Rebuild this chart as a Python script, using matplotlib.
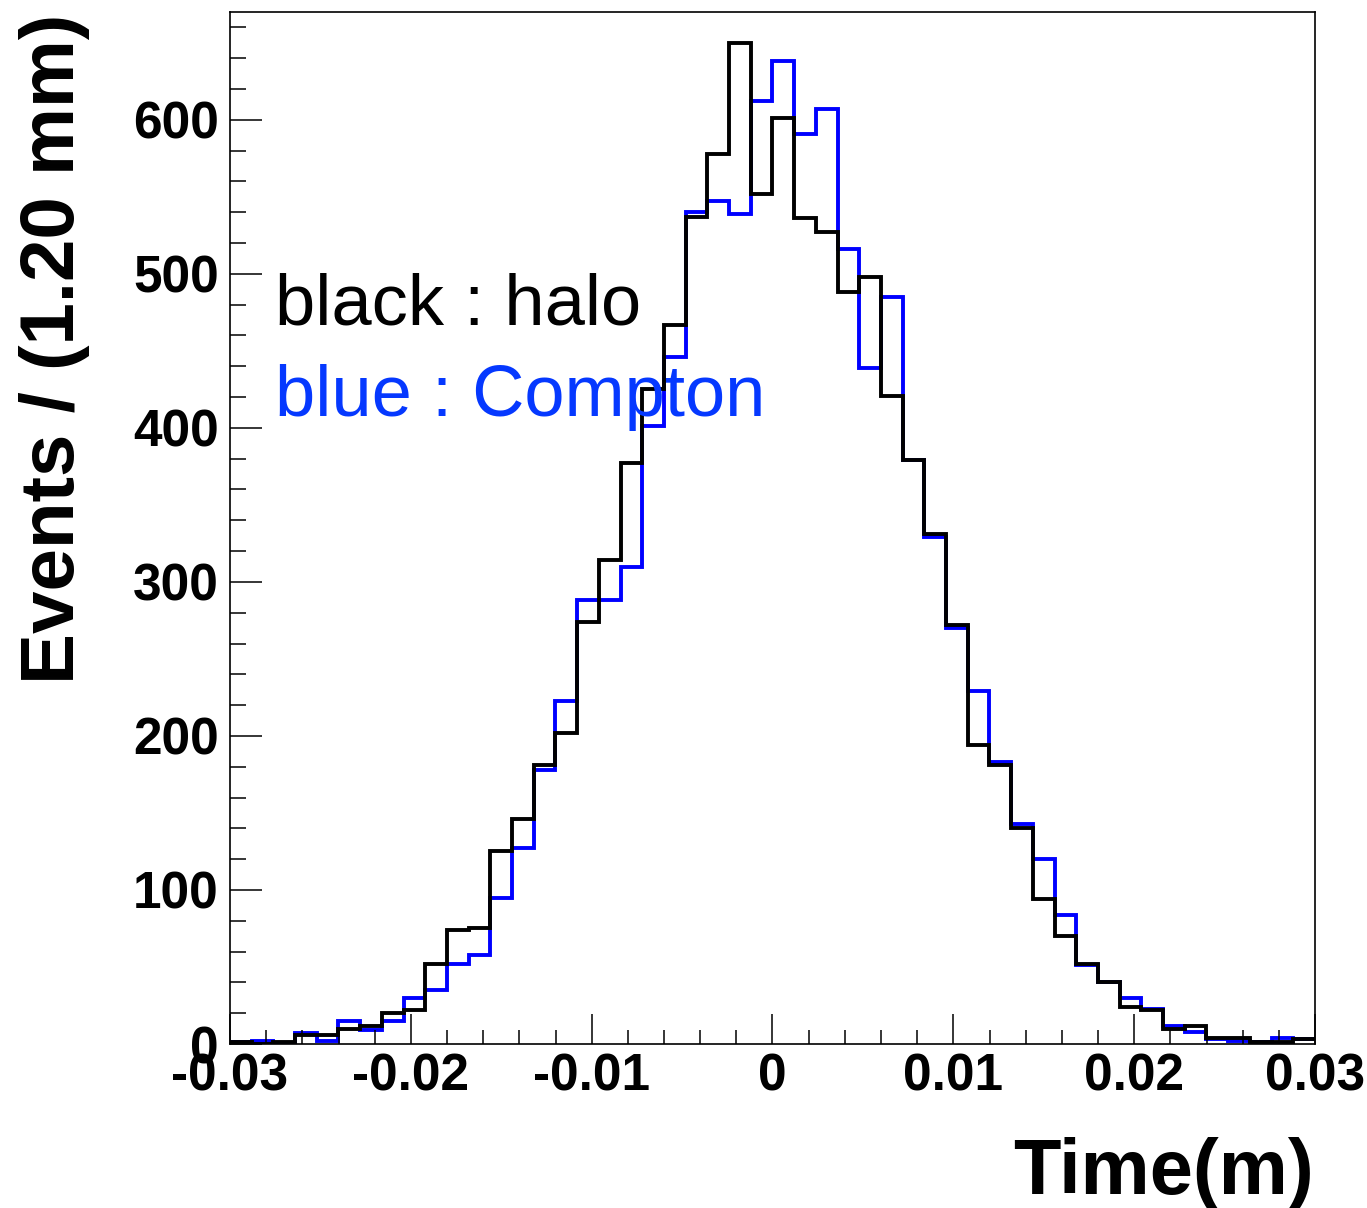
import matplotlib
matplotlib.use('Agg')
import matplotlib.pyplot as plt
import numpy as np

# Histogramas de tempo (50 bins de 1.20 mm entre -0.03 e 0.03)

## DADOS
x_min = -0.03
x_max = 0.03
n_bins = 50

halo = [1, 0, 1, 6, 6, 10, 12, 20, 22, 52,
        74, 75, 125, 146, 181, 202, 274, 314, 377, 425,
        467, 537, 578, 650, 552, 601, 536, 527, 488, 498,
        421, 379, 331, 272, 194, 181, 140, 94, 70, 52,
        40, 24, 22, 10, 12, 4, 4, 1, 1, 3]

compton = [1, 2, 0, 7, 2, 15, 9, 15, 30, 35,
           52, 58, 95, 127, 178, 223, 288, 288, 310, 401,
           446, 540, 547, 539, 612, 638, 591, 607, 516, 439,
           485, 379, 329, 270, 229, 183, 143, 120, 84, 51,
           40, 30, 23, 12, 8, 3, 2, 1, 4, 3]

x_ticks = [-0.03, -0.02, -0.01, 0, 0.01, 0.02, 0.03]
x_tick_labels = ['-0.03', '-0.02', '-0.01', '0', '0.01', '0.02', '0.03']
y_ticks = [0, 100, 200, 300, 400, 500, 600]

edges = np.linspace(x_min, x_max, n_bins + 1)

#-----------------------------------------------------------#

plt.rcParams['font.family'] = ['Liberation Sans', 'DejaVu Sans']

fig = plt.figure(figsize=(13.67, 12.08), dpi=100)
ax = fig.add_axes([230/1367, 1 - 1044/1208, 1085/1367, 1032/1208])

# azul primeiro, preto por cima
ax.stairs(compton, edges, baseline=None, color='#0000ff', linewidth=2.8)
ax.stairs(halo, edges, baseline=None, color='black', linewidth=2.8)

ax.set_xlim(x_min, x_max)
ax.set_ylim(0, 670)

ax.set_xticks(x_ticks)
ax.set_xticklabels(x_tick_labels)
ax.set_xticks(np.arange(-0.03, 0.0301, 0.002), minor=True)
ax.set_yticks(y_ticks)
ax.set_yticks(np.arange(0, 671, 20), minor=True)

ax.tick_params(axis='both', which='both', direction='in', top=False, right=False, width=1.1)
ax.tick_params(axis='x', which='major', length=21.5, pad=6)
ax.tick_params(axis='x', which='minor', length=10)
ax.tick_params(axis='y', which='major', length=23, pad=8)
ax.tick_params(axis='y', which='minor', length=11.5)
for lab in ax.get_xticklabels() + ax.get_yticklabels():
    lab.set_fontsize(37)
    lab.set_fontweight('bold')

for s in ax.spines.values():
    s.set_linewidth(1.2)

# legenda em texto
ax.text(x_min + 0.0025, 467, 'black : halo', fontsize=52, color='black', va='baseline')
ax.text(x_min + 0.0025, 408, 'blue : Compton', fontsize=52, color='#0538ff', va='baseline')

# titulos dos eixos
fig.text(55/1367, 1 - 14/1208, 'Events / (1.20 mm)', rotation=90, ha='center', va='top',
         fontsize=55, fontweight='bold')
fig.text(1314/1367, 1 - 1194/1208, 'Time(m)', ha='right', va='baseline',
         fontsize=56, fontweight='bold')

fig.savefig('out.png', dpi=100)
